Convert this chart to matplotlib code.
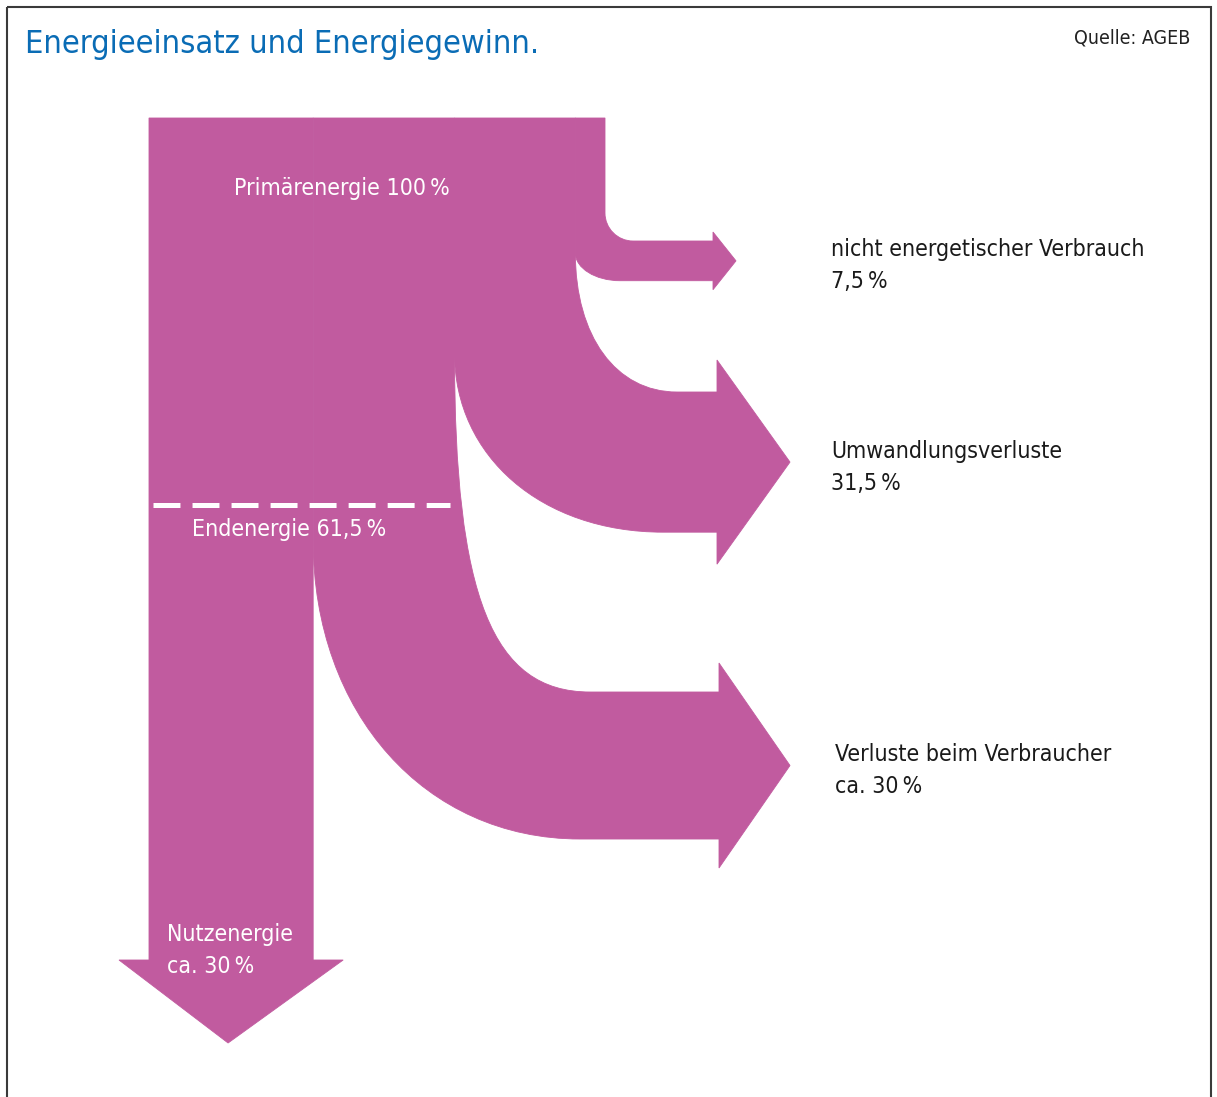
import matplotlib.pyplot as plt
import matplotlib as mpl
from matplotlib.path import Path
from matplotlib.patches import PathPatch, Rectangle

mpl.rcParams.update({
    'font.family': ['DejaVu Sans'],
    'font.stretch': 'condensed',
    'lines.scale_dashes': False,
})

# data: flows leaving the primary energy block (drawn width in % of trunk)
flow_names = ['nicht energetischer Verbrauch', 'Umwandlungsverluste',
              'Verluste beim Verbraucher', 'Nutzenergie']
flow_share = [6.5, 26.5, 31.0, 36.0]
flow_text = ['7,5\u2009%', '31,5\u2009%', 'ca. 30\u2009%', 'ca. 30\u2009%']
primary_text = 'Primärenergie 100\u2009%'
final_text = 'Endenergie 61,5\u2009%'

magenta = '#c15b9f'
blue = '#0a6cb5'

# layout (pixel coordinates, y downwards)
x_left, x_right, y_top = 149, 605, 118
px_per_pct = (x_right - x_left) / sum(flow_share)
split_y = [253, 353, 540]           # where each side flow leaves the trunk
exit_x = [713, 717, 719]            # start of arrow heads
exit_top = [241, 392, 692]
exit_gain = [1.34, 1.16, 1.04]      # side bands thicken after the bend
head_extra = [9, 32, 29]
head_len = [23, 73, 71]
outer_bend_start = 213
out_end_x = [633, 677, 590]
in_end_x = [620, 663, 580]
kappa_out = [0.55, 0.6, 0.72]
kappa_in = [0.55, 0.58, 0.58]
nutz_end, nutz_head_extra, nutz_head_len = 960, 30, 83

fig = plt.figure(figsize=(12.17, 10.97), dpi=100)
ax = fig.add_axes([0, 0, 1, 1])
ax.set_xlim(0, 1217)
ax.set_ylim(1097, 0)
ax.axis('off')


def bend(p0, p1, k):
    # cubic bezier leaving p0 straight down and arriving at p1 heading right
    (x0, y0), (x1, y1) = p0, p1
    return [(x0, y0 + k * (y1 - y0)), (x1 - k * (x1 - x0), y1), (x1, y1)]


# x boundaries of flows on the trunk, right to left
edges = [x_right]
for s in flow_share:
    edges.append(edges[-1] - s * px_per_pct)

for i in range(3):
    xo, xi = edges[i], edges[i + 1]
    thick = flow_share[i] * px_per_pct * exit_gain[i]
    top, bot = exit_top[i], exit_top[i] + thick
    mid = (top + bot) / 2
    y_out = outer_bend_start if i == 0 else split_y[i - 1]
    ex = exit_x[i]
    v = [(xi, y_top), (xo, y_top), (xo, y_out)]
    c = [Path.MOVETO, Path.LINETO, Path.LINETO]
    v += bend((xo, y_out), (out_end_x[i], top), kappa_out[i])
    c += [Path.CURVE4] * 3
    v += [(ex, top), (ex, top - head_extra[i]), (ex + head_len[i], mid),
          (ex, bot + head_extra[i]), (ex, bot)]
    c += [Path.LINETO] * 5
    in_end = (in_end_x[i], bot)
    v.append(in_end)
    c.append(Path.LINETO)
    back = bend((xi, split_y[i]), in_end, kappa_in[i])
    v += [back[1], back[0], (xi, split_y[i])]
    c += [Path.CURVE4] * 3
    v += [(xi, y_top), (xi, y_top)]
    c += [Path.LINETO, Path.CLOSEPOLY]
    ax.add_patch(PathPatch(Path(v, c), facecolor=magenta, edgecolor=magenta, lw=0.6))

# Nutzenergie trunk going down
xa, xb = edges[4], edges[3]
xc = (xa + xb) / 2 - 3
nutz = [(xa, y_top), (xb, y_top), (xb, nutz_end), (xb + nutz_head_extra, nutz_end),
        (xc, nutz_end + nutz_head_len), (xa - nutz_head_extra, nutz_end), (xa, nutz_end)]
ax.fill([p[0] for p in nutz], [p[1] for p in nutz], color=magenta, lw=0.6, ec=magenta)

# Endenergie dashed line
ax.plot([153, 450], [504.5, 504.5], color='white', lw=3.6, dashes=(19.4, 8.7),
        solid_capstyle='butt', dash_capstyle='butt')

# texts
fs = 16.6
ax.text(25, 53, 'Energieeinsatz und Energiegewinn.', color=blue, fontsize=23.3)
ax.text(1190, 43, 'Quelle: AGEB', color='#222222', fontsize=14)
ax.texts[-1].set_ha('right')
ax.text(234, 195, primary_text, color='white', fontsize=fs)
ax.text(192, 536, final_text, color='white', fontsize=fs)
ax.text(167, 941, flow_names[3], color='white', fontsize=fs)
ax.text(167, 973, flow_text[3], color='white', fontsize=fs)
label_x = [831, 831, 835]
label_y = [256, 458, 761]
for i in range(3):
    ax.text(label_x[i], label_y[i], flow_names[i], color='#1a1a1a', fontsize=fs)
    ax.text(label_x[i], label_y[i] + 32, flow_text[i], color='#1a1a1a', fontsize=fs)

# frame
ax.add_patch(Rectangle((7, 7), 1204, 1110, fill=False, ec='#3a3a3a', lw=1.5))

fig.savefig('out.png', dpi=100)
